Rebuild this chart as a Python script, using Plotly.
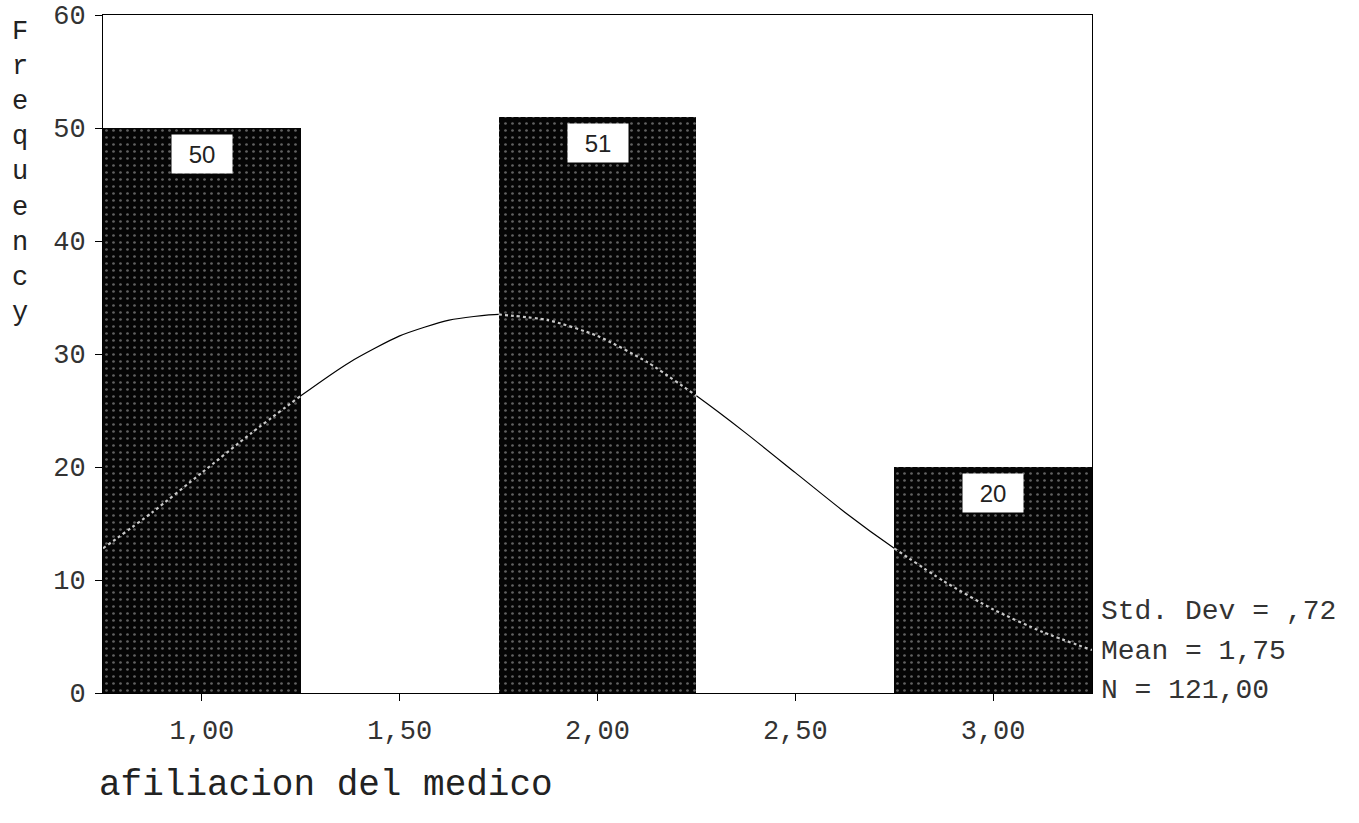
import plotly.graph_objects as go

# Data
bar_x = [1.0, 2.0, 3.0]
bar_counts = [50, 51, 20]
bar_labels = ["50", "51", "20"]
bar_width = 0.5

curve_x = [0.75, 0.875, 1.0, 1.125, 1.25, 1.375, 1.5, 1.625, 1.75, 1.875, 2.0,
           2.125, 2.25, 2.375, 2.5, 2.625, 2.75, 2.875, 3.0, 3.125, 3.25]
curve_y = [12.8, 16.0, 19.5, 23.0, 26.3, 29.3, 31.6, 33.0, 33.5, 33.0, 31.6,
           29.3, 26.3, 23.0, 19.5, 16.0, 12.8, 9.9, 7.4, 5.4, 3.8]

x_tickvals = [1.0, 1.5, 2.0, 2.5, 3.0]
x_ticktext = ["1,00", "1,50", "2,00", "2,50", "3,00"]
y_tickvals = [0, 10, 20, 30, 40, 50, 60]

stats_lines = ["Std. Dev = ,72", "Mean = 1,75", "N = 121,00"]
x_title = "afiliacion del medico"
y_title = "Frequency"

MONO = "Liberation Mono, Courier New, monospace"

fig = go.Figure()

fig.add_trace(go.Bar(
    x=bar_x, y=bar_counts, width=bar_width,
    marker=dict(color="#050505", line=dict(width=0),
                pattern=dict(shape=".", fgcolor="#bdbdbd", bgcolor="#050505",
                             size=7, solidity=0.12)),
    hoverinfo="skip", showlegend=False,
))

# Normal curve: black outside the bars, faint white inside the bars
fig.add_trace(go.Scatter(
    x=curve_x, y=curve_y, mode="lines",
    line=dict(color="black", width=1.2, shape="spline", smoothing=0.6),
    hoverinfo="skip", showlegend=False,
))

inside_x, inside_y = [], []
for bx in bar_x:
    lo, hi = bx - bar_width / 2, bx + bar_width / 2
    for cx, cy in zip(curve_x, curve_y):
        if lo <= cx <= hi:
            inside_x.append(cx)
            inside_y.append(cy)
    inside_x.append(None)
    inside_y.append(None)
fig.add_trace(go.Scatter(
    x=inside_x, y=inside_y, mode="lines",
    line=dict(color="rgba(235,235,235,0.85)", width=2.2, dash="dot",
              shape="spline", smoothing=0.6),
    hoverinfo="skip", showlegend=False,
))

# Value boxes
for bx, cnt, lab in zip(bar_x, bar_counts, bar_labels):
    fig.add_annotation(
        x=bx, y=cnt, xref="x", yref="y", text=lab, showarrow=False,
        yanchor="top", yshift=-6, width=58, height=36,
        bgcolor="white", font=dict(family="Liberation Sans, Arial", size=24, color="#222"),
    )

# Axis titles
fig.add_annotation(
    x=-0.006, y=-0.136, xref="paper", yref="paper", text=x_title,
    showarrow=False, xanchor="left", yanchor="middle",
    font=dict(family=MONO, size=36, color="#222"),
)
fig.add_annotation(
    x=-0.084, y=0.768, xref="paper", yref="paper",
    text="<br>".join(list(y_title)), showarrow=False,
    xanchor="center", yanchor="middle", align="center",
    font=dict(family=MONO, size=27, color="#222"),
)

# Statistics
for yy, line in zip([0.1195, 0.0605, 0.0044], stats_lines):
    fig.add_annotation(
        x=1.007, y=yy, xref="paper", yref="paper", text=line,
        showarrow=False, xanchor="left", yanchor="middle",
        font=dict(family=MONO, size=28, color="#333"),
    )

fig.update_layout(
    width=1359, height=823,
    margin=dict(l=103, r=267, t=15, b=130, autoexpand=False),
    paper_bgcolor="white", plot_bgcolor="white",
    bargap=0,
    xaxis=dict(
        range=[0.75, 3.25], tickvals=x_tickvals, ticktext=x_ticktext,
        showgrid=False, zeroline=False, showline=True, linecolor="black",
        linewidth=1, mirror=True, ticks="outside", ticklen=7, tickcolor="black",
        tickfont=dict(family=MONO, size=27, color="#333"), ticklabelstandoff=6,
        automargin=False,
    ),
    yaxis=dict(
        range=[0, 60], tickvals=y_tickvals,
        showgrid=False, zeroline=False, showline=True, linecolor="black",
        linewidth=1, mirror=True, ticks="outside", ticklen=7, tickcolor="black",
        tickfont=dict(family=MONO, size=27, color="#333"), ticklabelstandoff=4,
        automargin=False,
    ),
)

fig.write_html("out.html")
